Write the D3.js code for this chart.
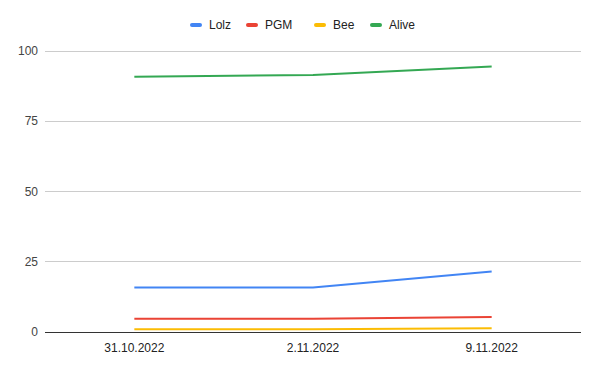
<!DOCTYPE html>
<html>
<head>
<meta charset="utf-8">
<script src="https://d3js.org/d3.v7.min.js"></script>
<style>
  body { margin: 0; background: #fff; }
  text { font-family: "Liberation Sans", Arial, sans-serif; }
</style>
</head>
<body>
<div id="chart"></div>
<script>
// data
const dates = ["31.10.2022", "2.11.2022", "9.11.2022"];
const seriesNames = ["Lolz", "PGM", "Bee", "Alive"];
const lolz = [15.8, 15.8, 21.5];
const pgm = [4.7, 4.7, 5.3];
const bee = [1.0, 1.0, 1.3];
const alive = [90.8, 91.5, 94.5];
const yTicks = [0, 25, 50, 75, 100];
const colors = ["#4285f4", "#ea4335", "#fbbc04", "#34a853"];

const values = [lolz, pgm, bee, alive];
const W = 600, H = 371;
const m = { left: 45, right: 581, top: 51, bottom: 332 };

const svg = d3.select("#chart").append("svg")
  .attr("width", W).attr("height", H);

const x = d3.scaleBand().domain(dates).range([m.left, m.right]);
const y = d3.scaleLinear().domain([0, 100]).range([m.bottom, m.top]);

// gridlines
svg.append("g").selectAll("line")
  .data(yTicks.filter(d => d !== 0))
  .enter().append("line")
  .attr("x1", m.left).attr("x2", m.right)
  .attr("y1", d => y(d)).attr("y2", d => y(d))
  .attr("stroke", "#cccccc").attr("stroke-width", 1)
  .attr("shape-rendering", "crispEdges");

// y labels
svg.append("g").selectAll("text")
  .data(yTicks)
  .enter().append("text")
  .attr("x", 38).attr("y", d => y(d) + 4)
  .attr("text-anchor", "end")
  .attr("font-size", 12).attr("fill", "#444")
  .text(d => d);

// x labels
svg.append("g").selectAll("text")
  .data(dates)
  .enter().append("text")
  .attr("x", d => x(d) + x.bandwidth() / 2).attr("y", 352)
  .attr("text-anchor", "middle")
  .attr("font-size", 12).attr("fill", "#222")
  .text(d => d);

// lines
const line = d3.line()
  .x((d, i) => x(dates[i]) + x.bandwidth() / 2)
  .y(d => y(d));

svg.append("g").selectAll("path")
  .data(values)
  .enter().append("path")
  .attr("d", line)
  .attr("fill", "none")
  .attr("stroke", (d, i) => colors[i])
  .attr("stroke-width", 2);

// baseline
svg.append("line")
  .attr("x1", m.left).attr("x2", m.right)
  .attr("y1", y(0)).attr("y2", y(0))
  .attr("stroke", "#333").attr("stroke-width", 1)
  .attr("shape-rendering", "crispEdges");

// legend
const legendX = [190, 246, 314, 370];
const legend = svg.append("g").selectAll("g")
  .data(seriesNames)
  .enter().append("g")
  .attr("transform", (d, i) => `translate(${legendX[i]},25)`);
legend.append("rect")
  .attr("x", 0).attr("y", -2).attr("width", 12).attr("height", 4)
  .attr("rx", 2)
  .attr("fill", (d, i) => colors[i]);
legend.append("text")
  .attr("x", 19).attr("y", 4)
  .attr("font-size", 12).attr("fill", "#222")
  .text(d => d);
</script>
</body>
</html>
